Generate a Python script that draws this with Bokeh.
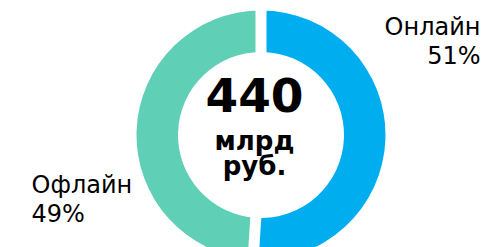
import math
from bokeh.plotting import figure
from bokeh.models import Range1d
from bokeh.core.properties import value
from bokeh.embed import file_html
from bokeh.resources import INLINE

# data
categories = ["Онлайн", "Офлайн"]
shares = [51, 49]
colors = ["#00AEEF", "#5FD0B6"]
total_value = "440"
total_unit = ["млрд", "руб."]

W, H = 488, 247
CX, CY = 260.5, 134.5  # ring centre in frame pixels (from top-left)
R_OUT, R_IN = 124.5, 83.0

p = figure(width=W, height=H, output_backend="svg", toolbar_location=None,
           x_range=Range1d(-CX, W - CX), y_range=Range1d(CY - H, CY),
           min_border=0, outline_line_color=None)
p.axis.visible = False
p.grid.visible = False
p.background_fill_color = "white"
p.border_fill_color = "white"

tot = sum(shares)
starts, ends, bounds = [], [], []
acc = 0.0
for s in shares:
    a_end = math.pi / 2 - 2 * math.pi * acc / tot
    acc += s
    a_start = math.pi / 2 - 2 * math.pi * acc / tot
    starts.append(a_start)
    ends.append(a_end)
    bounds.append(a_end)

p.annular_wedge(x=[0] * len(shares), y=[0] * len(shares), inner_radius=R_IN, outer_radius=R_OUT,
                start_angle=starts, end_angle=ends, fill_color=colors, line_color=None)

# white separators
RL = R_OUT + 10
p.segment(x0=[0] * len(bounds), y0=[0] * len(bounds),
          x1=[RL * math.cos(a) for a in bounds], y1=[RL * math.sin(a) for a in bounds],
          line_color="white", line_width=11, line_cap="butt")

def py(page_y):
    return CY - page_y

def px(page_x):
    return page_x - CX

# centre text
p.text(x=[px(254)], y=[py(94)], text=[total_value], text_font=value("DejaVu Sans"),
       text_font_style="bold", text_font_size="47px", text_align="center",
       text_baseline="alphabetic", text_color="black")
p.text(x=[px(254)] * 2, y=[py(140.5), py(165.5)], text=total_unit, text_font=value("DejaVu Sans"),
       text_font_style="bold", text_font_size="26px", text_align="center",
       text_baseline="alphabetic", text_color="black")

# labels
lab_font = value("DejaVu Sans")
p.text(x=[px(480)] * 2, y=[py(26), py(55)], text=[categories[0], f"{shares[0]}%"],
       text_font=lab_font, text_font_size="24px", text_align="right",
       text_baseline="alphabetic", text_color="black")
p.text(x=[px(31)] * 2, y=[py(184), py(213)], text=[categories[1], f"{shares[1]}%"],
       text_font=lab_font, text_font_size="24px", text_align="left",
       text_baseline="alphabetic", text_color="black")

open("out.html", "w").write(file_html(p, INLINE))
